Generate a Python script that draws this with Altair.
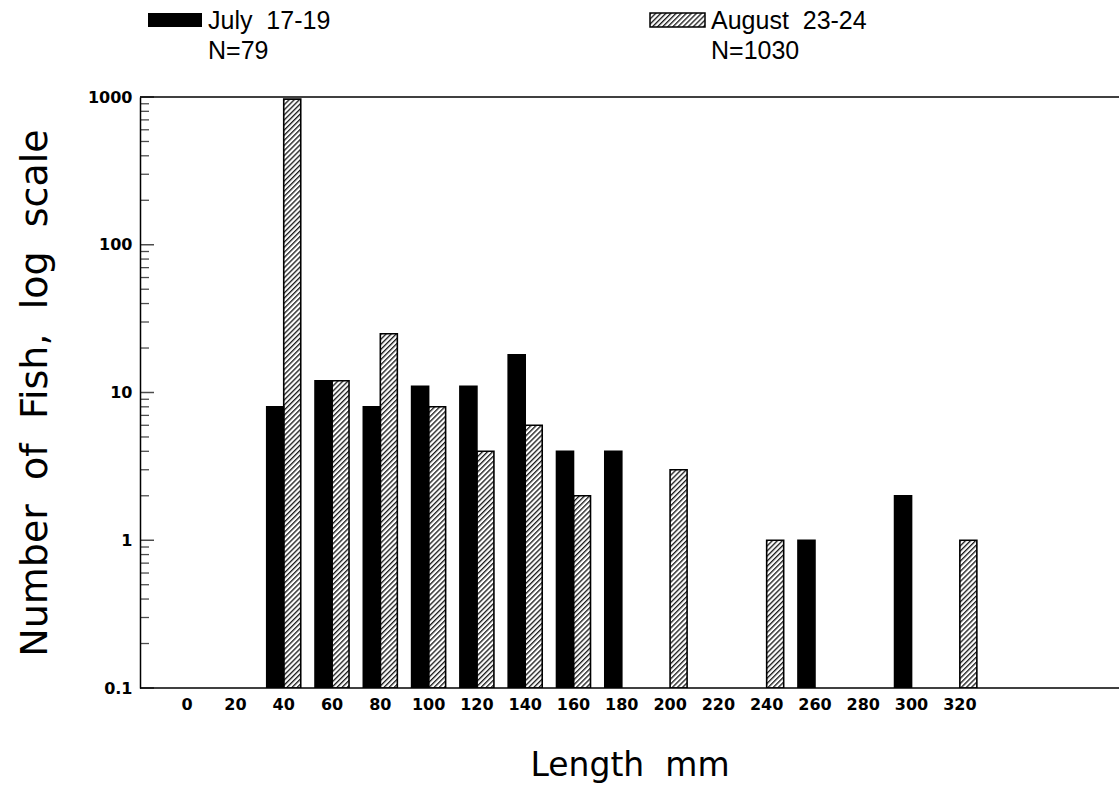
import urllib.parse

import altair as alt
import pandas as pd

# Length classes (mm) and catch counts per class for the two sampling dates
lengths = [0, 20, 40, 60, 80, 100, 120, 140, 160, 180, 200, 220, 240, 260, 280, 300, 320]
july_counts = [0, 0, 8, 12, 8, 11, 11, 18, 4, 4, 0, 0, 0, 1, 0, 2, 0]
august_counts = [0, 0, 968, 12, 25, 8, 4, 6, 2, 0, 3, 0, 1, 0, 0, 0, 1]
series = ["July 17-19", "August 23-24"]

# Log axis tick values
y_major = [0.1, 1, 10, 100, 1000]
y_minor = [m * 10.0 ** e for e in range(-1, 3) for m in range(2, 10)]

rows = []
for name, counts in zip(series, [july_counts, august_counts]):
    for length, n in zip(lengths, counts):
        if n > 0:
            rows.append({"length": str(length), "series": name, "count": n})
bars_df = pd.DataFrame(rows)
totals = [sum(july_counts), sum(august_counts)]

W, H = 979, 591
FONT_NUM = "DejaVu Sans"
FONT_TITLE = "DejaVu Sans"
FONT_LEG = "Liberation Sans"
SP2 = "\u00a0 "  # wide word gap


def hatch_uri(w, h):
    """Diagonal-hatch SVG tile used as the fill of the August bars."""
    svg = (
        f"<svg xmlns='http://www.w3.org/2000/svg' width='{w}' height='{h}'>"
        "<defs><pattern id='h' width='3.6' height='3.6' patternUnits='userSpaceOnUse' "
        "patternTransform='rotate(45)'>"
        "<rect width='3.6' height='3.6' fill='white'/>"
        "<line x1='0.7' y1='0' x2='0.7' y2='3.6' stroke='black' stroke-width='1.2'/>"
        "</pattern></defs>"
        f"<rect width='{w}' height='{h}' fill='url(#h)'/></svg>"
    )
    return "data:image/svg+xml;charset=utf-8," + urllib.parse.quote(svg)


x_enc = alt.X(
    "length:N",
    scale=alt.Scale(domain=[str(v) for v in lengths], paddingInner=0,
                    paddingOuter=0, range=[23, 844]),
    axis=alt.Axis(
        title="Length\u00a0 mm", labelAngle=0, ticks=False, grid=False, domain=False,
        labelFont=FONT_NUM, labelFontSize=16, labelFontWeight="bold",
        labelColor="black", labelPadding=8,
        titleFont=FONT_TITLE, titleFontSize=33, titleFontWeight="normal",
        titleColor="black", titlePadding=37, titleX=W / 2,
    ),
)
xoff_enc = alt.XOffset(
    "series:N", scale=alt.Scale(domain=series, paddingInner=0, paddingOuter=0.42)
)
y_scale = alt.Scale(type="log", domain=[0.1, 1000], nice=False, clamp=True)
y_enc = alt.Y(
    "count:Q",
    scale=y_scale,
    axis=alt.Axis(
        title=f"Number{SP2}of{SP2}Fish,{SP2}log{SP2}scale",
        values=y_major, labelExpr="toString(datum.value)", ticks=False, grid=False,
        domainColor="black", domainWidth=1.5,
        labelFont=FONT_NUM, labelFontSize=16, labelFontWeight="bold",
        labelColor="black", labelPadding=8,
        titleFont=FONT_TITLE, titleFontSize=38, titleFontWeight="normal",
        titleColor="black", titlePadding=33,
    ),
)

base = alt.Chart(bars_df)

# Hatched fill for the August bars: a tall hatch image hung from the bar top,
# clipped at the bottom of the plot.
hatch = base.transform_filter(alt.datum.series == series[1]).mark_image(
    width=17, height=620, align="center", baseline="top", aspect=False, clip=True
).encode(x=x_enc, xOffset=xoff_enc, y=y_enc, url=alt.value(hatch_uri(17, 620)))

bars = base.mark_bar(stroke="black", strokeWidth=1.6, clip=True).encode(
    x=x_enc,
    xOffset=xoff_enc,
    y=y_enc,
    y2=alt.datum(0.1),
    fill=alt.Fill("series:N", scale=alt.Scale(domain=series, range=["black", "transparent"]),
                  legend=None),
)

minor_ticks = alt.Chart(pd.DataFrame({"v": y_minor})).mark_tick(
    size=9, thickness=1.3, color="black"
).encode(y=alt.Y("v:Q", scale=y_scale), x=alt.value(4.5))

major_ticks = alt.Chart(pd.DataFrame({"v": y_major})).mark_tick(
    size=14, thickness=1.5, color="black"
).encode(y=alt.Y("v:Q", scale=y_scale), x=alt.value(7))

# Frame lines along the top (1000) and bottom (0.1) of the plot
frame_lines = alt.Chart(pd.DataFrame({"v": [0.1, 1000]})).mark_rule(
    color="black", strokeWidth=1.5
).encode(y=alt.Y("v:Q", scale=y_scale))

# Legend drawn above the plot
one = pd.DataFrame({"k": [0]})
july_swatch = alt.Chart(one).mark_rect(color="black").encode(
    x=alt.value(8), x2=alt.value(62), y=alt.value(-84), y2=alt.value(-70)
)
aug_swatch = alt.Chart(one).mark_image(
    width=55, height=14, align="left", baseline="top", aspect=False
).encode(x=alt.value(510), y=alt.value(-84), url=alt.value(hatch_uri(55, 14)))
aug_outline = alt.Chart(one).mark_rect(
    fill="transparent", stroke="black", strokeWidth=1.5
).encode(x=alt.value(510), x2=alt.value(565), y=alt.value(-84), y2=alt.value(-70))

legend_text = []
for name, total, lx in zip(series, totals, [68, 571]):
    legend_text.append(
        alt.Chart(one).mark_text(
            align="left", baseline="middle", font=FONT_LEG, fontSize=25,
            fontWeight="normal", color="black", lineHeight=30,
        ).encode(x=alt.value(lx), y=alt.value(-76),
                 text=alt.value([name.replace(" ", "\u00a0 "), f"N={total}"]))
    )

chart = alt.layer(
    hatch, bars, minor_ticks, major_ticks, frame_lines,
    july_swatch, aug_swatch, aug_outline, *legend_text,
).properties(
    width=W, height=H,
    padding={"left": 140, "top": 97, "right": 0, "bottom": 107},
    autosize=alt.AutoSizeParams(type="none"),
    background="white",
).configure_view(stroke=None)

chart.save("out.html", embed_options={"renderer": "svg", "actions": False})
